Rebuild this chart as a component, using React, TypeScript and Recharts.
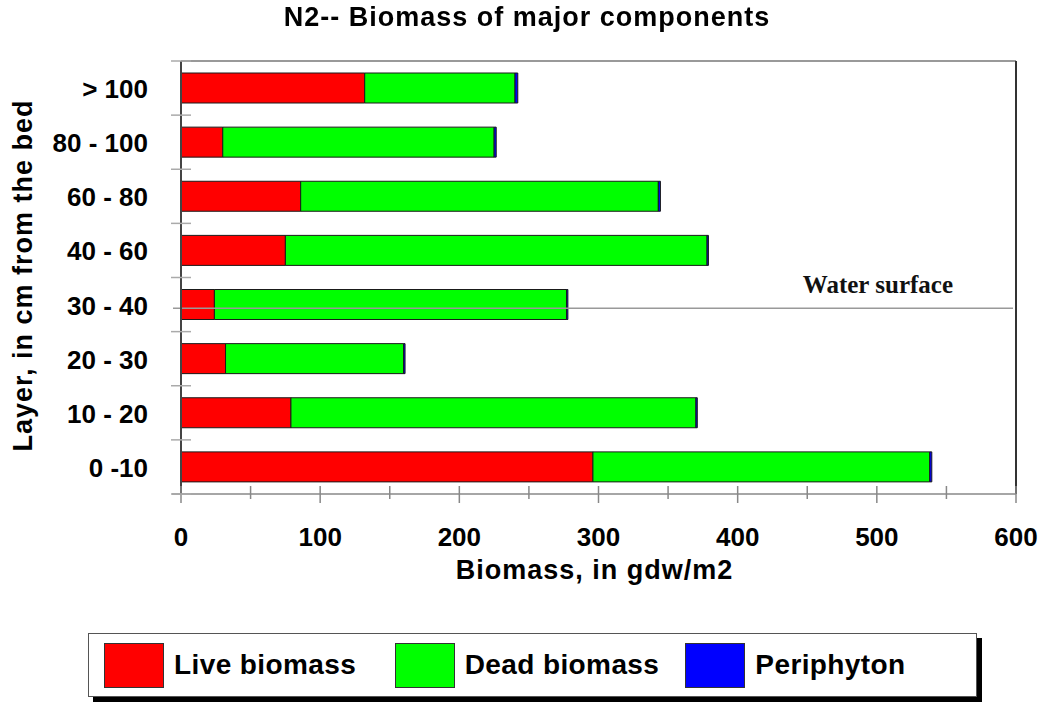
import { Bar, BarChart, ReferenceLine, XAxis, YAxis } from "recharts"

// layers listed top to bottom, as drawn
const layers = ["> 100", "80 - 100", "60 - 80", "40 - 60", "30 - 40", "20 - 30", "10 - 20", "0 -10"]
const liveBiomass = [132, 30, 86, 75, 24, 32, 79, 296]
const deadBiomass = [108, 195, 257, 303, 253, 128, 291, 242]
const periphyton = [2, 1.5, 1.5, 1, 1, 1, 1, 1.5]

const biomassTicks = [0, 50, 100, 150, 200, 250, 300, 350, 400, 450, 500, 550, 600]
const biomassMax = 600

// water surface sits inside the 30 - 40 cm layer, ~34 cm from the bed
const waterLayer = "30 - 40"
const waterFraction = 0.43 // share of the layer below the surface

const series = [
  { key: "live", name: "Live biomass", color: "#ff0000" },
  { key: "dead", name: "Dead biomass", color: "#00ff00" },
  { key: "periphyton", name: "Periphyton", color: "#0000ff" },
]

const data = layers.map((layer, i) => ({
  layer,
  live: liveBiomass[i],
  dead: deadBiomass[i],
  periphyton: periphyton[i],
}))

const W = 1040
const H = 702
const margin = { top: 61, right: 24, bottom: 108, left: 0 }
const xAxisHeight = 100
const bandHeight = (H - margin.top - margin.bottom - xAxisHeight) / layers.length

const sans = '"Liberation Sans", Arial, sans-serif'
const serif = '"Liberation Serif", "Times New Roman", serif'

function BiomassTick({ x, y, payload }: any) {
  const major = payload.value % 100 === 0
  return (
    <g>
      <line x1={x} x2={x} y1={y - 8} y2={y + (major ? 9 : 5)} stroke="#888" strokeWidth={1.5} />
      {payload.value === 0 && <line x1={x - 9} x2={x} y1={y} y2={y} stroke="#888" strokeWidth={1.5} />}
      {major && (
        <text x={x} y={y + 52} textAnchor="middle" fontFamily={sans} fontWeight="bold" fontSize={26} fill="#000">
          {payload.value}
        </text>
      )}
    </g>
  )
}

// category labels plus the band boundary marks crossing the axis
function LayerTick({ x, y, payload, index }: any) {
  const ax = x + 33
  const top = y - bandHeight / 2
  const bottom = y + bandHeight / 2
  return (
    <g>
      <line x1={ax - 10} x2={ax + 10} y1={top} y2={top} stroke="#aaa" strokeWidth={1.5} />
      {index === layers.length - 1 && (
        <line x1={ax - 10} x2={ax + 10} y1={bottom} y2={bottom} stroke="#aaa" strokeWidth={1.5} />
      )}
      <text x={x} y={y} dy={10} textAnchor="end" fontFamily={sans} fontWeight="bold" fontSize={26} fill="#000">
        {payload.value}
      </text>
    </g>
  )
}

const waterShape = ({ x1, x2, y1 }: any) => {
  const y = y1 + (0.5 - waterFraction) * bandHeight
  return <line x1={x1 - 8} x2={x2 - 3} y1={y} y2={y} stroke="#999" strokeWidth={1.5} />
}

// top edge of the plot frame, at the upper edge of the first band
const frameTopShape = ({ x1, x2, y1 }: any) => {
  const y = y1 - bandHeight / 2
  return <line x1={x1} x2={x2} y1={y} y2={y} stroke="#999" strokeWidth={2} />
}

function WaterLabel({ viewBox }: any) {
  return (
    <text
      x={viewBox.x + viewBox.width - 63}
      y={viewBox.y - 12}
      textAnchor="end"
      fontFamily={serif}
      fontWeight="bold"
      fontSize={25}
      fill="#111"
    >
      Water surface
    </text>
  )
}

const yLabel = ({ viewBox }: any) => {
  const x = viewBox.x + 32
  const y = viewBox.y + viewBox.height / 2 - 2
  return (
    <text
      x={x}
      y={y}
      transform={`rotate(-90, ${x}, ${y})`}
      textAnchor="middle"
      fontFamily={sans}
      fontWeight="bold"
      fontSize={27}
      letterSpacing={1}
      fill="#000"
    >
      Layer, in cm from the bed
    </text>
  )
}

const xLabel = ({ viewBox }: any) => (
  <text
    x={viewBox.x + viewBox.width / 2 - 4}
    y={viewBox.y + 85}
    textAnchor="middle"
    fontFamily={sans}
    fontWeight="bold"
    fontSize={27}
    letterSpacing={1}
    fill="#000"
  >
    Biomass, in gdw/m2
  </text>
)

export default function App() {
  return (
    <div style={{ position: "fixed", left: 0, top: 0, width: W, height: H, background: "#fff" }}>
      <div
        style={{
          position: "absolute",
          left: 7,
          top: 4,
          width: W,
          textAlign: "center",
          fontFamily: sans,
          fontWeight: "bold",
          fontSize: 27,
          lineHeight: "27px",
          letterSpacing: 1,
          color: "#000",
          zIndex: 2,
        }}
      >
        N2-- Biomass of major components
      </div>

      <BarChart width={W} height={H} data={data} layout="vertical" margin={margin}>
        <XAxis
          xAxisId="main"
          type="number"
          domain={[0, biomassMax]}
          ticks={biomassTicks}
          interval={0}
          height={xAxisHeight}
          tickSize={0}
          tickMargin={0}
          tickLine={false}
          tick={<BiomassTick />}
          axisLine={{ stroke: "#888", strokeWidth: 1.5 }}
          label={xLabel}
        />
        <YAxis
          yAxisId="layer"
          type="category"
          dataKey="layer"
          width={181}
          tickSize={0}
          tickMargin={33}
          tickLine={false}
          tick={<LayerTick />}
          axisLine={{ stroke: "#444", strokeWidth: 2 }}
          label={yLabel}
        />
        <ReferenceLine xAxisId="main" yAxisId="layer" y={layers[0]} shape={frameTopShape} />
        <ReferenceLine xAxisId="main" yAxisId="layer" x={biomassMax} stroke="#333" strokeWidth={2} />
        <ReferenceLine
          xAxisId="main"
          yAxisId="layer"
          y={waterLayer}
          shape={waterShape}
          label={<WaterLabel />}
        />
        {series.map((s) => (
          <Bar
            key={s.key}
            dataKey={s.key}
            name={s.name}
            stackId="a"
            xAxisId="main"
            yAxisId="layer"
            fill={s.color}
            stroke="#1a1a1a"
            strokeWidth={1}
            barSize={30}
            isAnimationActive={false}
          />
        ))}
      </BarChart>

      <div
        style={{
          position: "absolute",
          left: 88,
          top: 633,
          width: 889,
          height: 64,
          boxSizing: "border-box",
          border: "1px solid #555",
          boxShadow: "5px 5px 0 #000",
          background: "#fff",
          display: "flex",
          alignItems: "center",
          paddingLeft: 15,
        }}
      >
        {series.map((s) => (
          <div key={s.key} style={{ width: 293, display: "flex", alignItems: "center" }}>
            <div
              style={{
                width: 60,
                height: 45,
                boxSizing: "border-box",
                background: s.color,
                border: "1px solid #333",
              }}
            />
            <span
              style={{
                marginLeft: 10,
                fontFamily: sans,
                fontWeight: "bold",
                fontSize: 28,
                letterSpacing: 0.4,
                color: "#000",
              }}
            >
              {s.name}
            </span>
          </div>
        ))}
      </div>
    </div>
  )
}
